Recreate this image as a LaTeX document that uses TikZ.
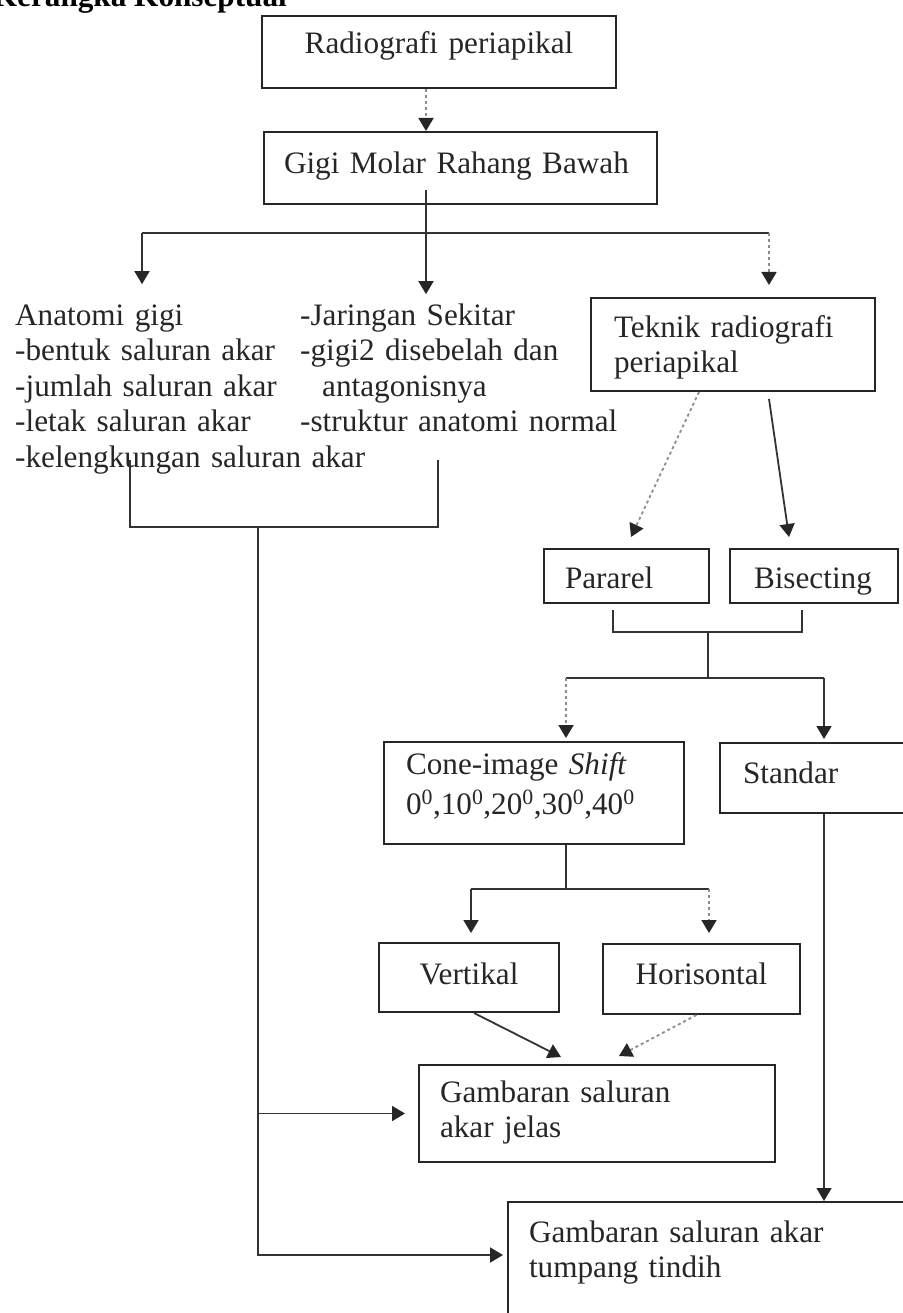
\documentclass[tikz,border=0pt]{standalone}
\usepackage{fontspec}
\setmainfont{Liberation Serif}
\usetikzlibrary{arrows.meta,calc}
\newcommand{\chartfont}{\fontsize{31.2}{35.5}\selectfont}

\begin{document}
\begin{tikzpicture}[x=1pt,y=-1pt,
	link/.style={draw=black!80,line width=1.8pt},
	dotlink/.style={draw=black!45,line width=1.8pt,dash pattern=on 3pt off 3pt},
	arr/.style={-{Triangle[width=15pt,length=13pt,color=black!85]}},
	box/.style={draw=black!85,line width=2pt,anchor=north west,inner ysep=0pt,text=black!85,font=\chartfont}]
	\useasboundingbox (0,0) rectangle (902,1313);
	\node[anchor=base east,inner sep=0pt,font=\chartfont\bfseries] (judul) at (287,7) {Kerangka Konseptual};
	\begin{scope}[every node/.style={box}]
	\node[align=center,inner xsep=0pt,text width=354pt,text height=38pt,text depth=34pt] (radio) at (261,15) {Radiografi periapikal};
	\node[align=left,inner xsep=20pt,text width=353pt,text height=42pt,text depth=30pt] (gigi) at (263,131) {Gigi Molar Rahang Bawah};
	\node[align=left,inner xsep=23pt,text width=238pt,text height=39pt,text depth=54pt] (teknik) at (590,297) {Teknik radiografi\\periapikal};
	\node[align=left,inner xsep=21pt,text width=123pt,text height=39pt,text depth=15pt] (pararel) at (543,548) {Pararel};
	\node[align=left,inner xsep=24pt,text width=120pt,text height=39pt,text depth=15pt] (bisecting) at (729,548) {Bisecting};
	\node[align=left,inner xsep=22pt,text width=256pt,text height=32pt,text depth=70pt] (cone) at (383,741) {Cone-image \textit{Shift}\\[4.5pt]0\textsuperscript{0},10\textsuperscript{0},20\textsuperscript{0},30\textsuperscript{0},40\textsuperscript{0}};
	\node[align=left,inner xsep=23pt,text width=165pt,text height=40pt,text depth=30pt] (standar) at (719,742) {Standar};
	\node[align=center,inner xsep=0pt,text width=180pt,text height=41pt,text depth=28pt] (vertikal) at (378,942) {Vertikal};
	\node[align=center,inner xsep=0pt,text width=197pt,text height=40pt,text depth=30pt] (horisontal) at (602,943) {Horisontal};
	\node[align=left,inner xsep=21pt,text width=314pt,text height=37pt,text depth=60pt] (jelas) at (418,1064) {Gambaran saluran\\akar jelas};
	\node[align=left,inner xsep=21pt,text width=381pt,text height=40pt,text depth=139pt] (tumpang) at (507,1201) {Gambaran saluran akar\\tumpang tindih};
	\end{scope}
	\node[anchor=base west,inner sep=0pt,text width=350pt,align=left,font=\chartfont,text=black!85] (anatomi) at (15,325) {Anatomi gigi\\-bentuk saluran akar\\-jumlah saluran akar\\-letak saluran akar\\-kelengkungan saluran akar};
	\node[anchor=base west,inner sep=0pt,text width=320pt,align=left,font=\chartfont,text=black!85] (jaringan) at (300,325) {-Jaringan Sekitar\\-gigi2 disebelah dan\\\hspace*{22pt}antagonisnya\\-struktur anatomi normal};
	\coordinate (trunk) at (426,233);
	\coordinate (k1) at (142,233);
	\coordinate (k2) at (769,233);
	\coordinate (b1l) at (130,460);
	\coordinate (b1r) at (438,460);
	\coordinate (b1) at (258,527);
	\coordinate (b1 end) at (258,1255);
	\coordinate (b2l) at (613,610);
	\coordinate (b2r) at (802,610);
	\coordinate (b2) at (708,632);
	\coordinate (k3) at (708,678);
	\coordinate (k3l) at (566,678);
	\coordinate (k3r) at (824,678);
	\coordinate (k4) at (566,889);
	\coordinate (k4l) at (471,889);
	\coordinate (k4r) at (709,889);
	\draw [dotlink,arr] (radio.south -| trunk) -- (gigi.north -| trunk);
	\draw [link] (k1) -- (k2);
	\draw [link,arr,shorten >=9pt] ($(gigi.south -| trunk)+(0,-15)$) -- (jaringan.north -| trunk);
	\draw [link,arr,shorten >=20pt] (k1) -- (anatomi.north -| k1);
	\draw [dotlink,arr,shorten >=12pt] (k2) -- (teknik.north -| k2);
	\draw [dotlink,arr] ($(teknik.south west)+(109,0)$) -- ($(pararel.north west)+(88,-11)$);
	\draw [link,arr] ($(teknik.south west)+(179,7)$) -- ($(bisecting.north west)+(60,-11)$);
	\draw [link] (b1l) |- (b1) -| (b1r);
	\draw [link,arr,shorten >=4pt] (b1) -- (b1 end) -- (b1 end -| tumpang.west);
	\draw [link,arr,shorten >=13pt] (b1 |- jelas.west) -- (jelas.west);
	\draw [link] (b2l) |- (b2) -| (b2r);
	\draw [link] (b2) -- (k3);
	\draw [link] (k3l) -- (k3r);
	\draw [dotlink,arr,shorten >=3pt] (k3l) -- (k3l |- cone.north);
	\draw [link,arr,shorten >=3pt] (k3r) -- (k3r |- standar.north);
	\draw [link] (cone.south -| k4) -- (k4);
	\draw [link] (k4l) -- (k4r);
	\draw [link,arr,shorten >=9pt] (k4l) -- (k4l |- vertikal.north);
	\draw [dotlink,arr,shorten >=10pt] (k4r) -- (k4r |- horisontal.north);
	\draw [link,arr] ($(vertikal.south)+(5,0)$) -- ($(jelas.north west)+(143,-7)$);
	\draw [dotlink,arr] ($(horisontal.south)+(-5,0)$) -- ($(jelas.north west)+(201,-8)$);
	\draw [link,line width=1.4pt,arr] (standar.south west -| k3r) -- (tumpang.north -| k3r);
\end{tikzpicture}
\end{document}
